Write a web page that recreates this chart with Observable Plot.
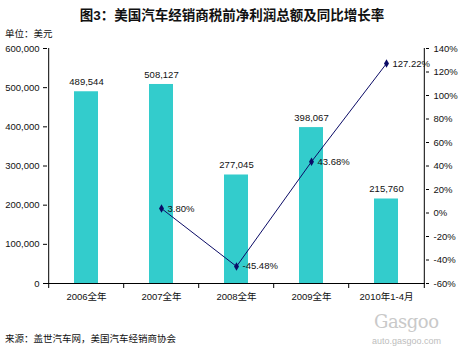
<!DOCTYPE html>
<html><head><meta charset="utf-8">
<script src="https://cdn.jsdelivr.net/npm/d3@7"></script>
<script src="https://cdn.jsdelivr.net/npm/@observablehq/plot@0.6"></script>
<style>
html,body{margin:0;padding:0;background:#fff;}
#wrap{position:relative;width:460px;height:351px;overflow:hidden;font-family:"Liberation Sans","Noto Sans CJK SC",sans-serif;color:#111;}
.t{position:absolute;white-space:nowrap;}
#title{left:0;width:464px;top:4px;text-align:center;font-size:13.5px;font-weight:bold;}
#unit{left:5px;top:26px;font-size:9.5px;}
#src{left:5px;top:331px;font-size:9.5px;}
#wm1{left:374px;top:311px;font-size:18px;color:#c9c9c9;font-family:"DejaVu Serif",serif;letter-spacing:-0.5px;}
#wm2{left:372px;top:336px;font-size:9px;color:#bdbdbd;}
#chart{position:absolute;left:0;top:0;}
</style></head>
<body>
<div id="wrap">
  <div id="chart"></div>
  <div class="t" id="title">图3：美国汽车经销商税前净利润总额及同比增长率</div>
  <div class="t" id="unit">单位：美元</div>
  <div class="t" id="src">来源：盖世汽车网，美国汽车经销商协会</div>
  <div class="t" id="wm1">Gasgoo</div>
  <div class="t" id="wm2">auto.gasgoo.com</div>
</div>
<script>
const categories = ["2006全年", "2007全年", "2008全年", "2009全年", "2010年1-4月"];
const profits = [489544, 508127, 277045, 398067, 215760];
const growth = [null, 3.80, -45.48, 43.68, 127.22];
const leftTicks = [0, 100000, 200000, 300000, 400000, 500000, 600000];
const rightTicks = [-60, -40, -20, 0, 20, 40, 60, 80, 100, 120, 140];

const W = 460, H = 351, mL = 47, mR = 35, mT = 48, mB = 68;
const step = (W - mL - mR) / categories.length;
const yMax = 600000, pMin = -60, pMax = 140;
const toY = p => (p - pMin) / (pMax - pMin) * yMax;

const bars = categories.map((c, i) => ({c, v: profits[i]}));
const line = categories.map((c, i) => ({c, g: growth[i]})).filter(d => d.g != null);
const fmt = d3.format(",");

const navy = "#0b0b66";
const chart = Plot.plot({
  width: W, height: H,
  marginLeft: mL, marginRight: mR, marginTop: mT, marginBottom: mB,
  style: {fontFamily: "'Liberation Sans','Noto Sans CJK SC',sans-serif", fontSize: "9.5px", color: "#111", background: "transparent"},
  x: {type: "band", domain: categories, paddingInner: 0.68, paddingOuter: 0.34},
  y: {domain: [0, yMax]},
  marks: [
    Plot.barY(bars, {x: "c", y: "v", fill: "#33CCCC"}),
    Plot.text(bars, {x: "c", y: "v", text: d => fmt(d.v), dy: -10, fontSize: 9.5, fill: "#111"}),
    Plot.ruleY([0], {stroke: "#000"}),
    Plot.ruleX(categories.slice(0, 1), {x: d => d, dx: -step / 2, stroke: "#000"}),
    Plot.ruleX(categories.slice(-1), {x: d => d, dx: step / 2, stroke: "#000"}),
    Plot.ruleX(categories, {x: d => d, y1: 0, y2: 0, dx: -step / 2, insetBottom: -5, stroke: "#000"}),
    Plot.ruleX(categories.slice(-1), {x: d => d, y1: 0, y2: 0, dx: step / 2, insetBottom: -5, stroke: "#000"}),
    Plot.axisY({anchor: "left", ticks: leftTicks, tickFormat: fmt, tickSize: 4, tickPadding: 4, label: null, stroke: "#000"}),
    Plot.axisY({anchor: "right", ticks: rightTicks.map(toY), tickFormat: v => Math.round(v / yMax * (pMax - pMin) + pMin) + "%", tickSize: 3, tickPadding: 5, label: null, stroke: "#000"}),
    Plot.axisX({tickSize: 0, tickPadding: 10, label: null}),
    Plot.line(line, {x: "c", y: d => toY(d.g), stroke: navy, strokeWidth: 1}),
    Plot.dot(line, {x: "c", y: d => toY(d.g), symbol: "diamond", r: 2.6, fill: navy, stroke: "none"}),
    Plot.text(line, {x: "c", y: d => toY(d.g), text: d => d.g.toFixed(2) + "%", textAnchor: "start", dx: 6, fontSize: 9.5, fill: "#111"})
  ]
});
document.getElementById("chart").appendChild(chart);
</script>
</body></html>
